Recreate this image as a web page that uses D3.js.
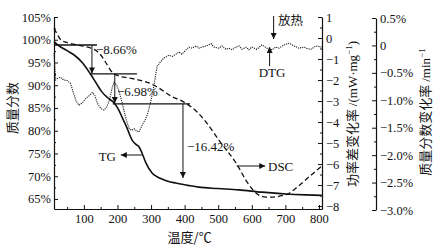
<!DOCTYPE html>
<html>
<head>
<meta charset="utf-8">
<script src="https://cdn.jsdelivr.net/npm/d3@7"></script>
<style>
  body { margin: 0; background: #fff; }
  svg text { font-family: "Liberation Serif", "DejaVu Serif", serif; fill: #111; }
  .cjk { font-family: "Noto Sans CJK SC", sans-serif; }
</style>
</head>
<body>
<div id="chart"></div>
<script>
// TG (mass fraction, %)
const tgTemp = [11, 20, 31, 50, 70, 95, 121, 138, 153, 170, 189, 202, 213, 228, 243, 255, 264, 273, 285, 303, 318, 332, 350, 374, 410, 442, 500, 561, 630, 701, 760, 808];
const tgVal  = [99.6, 99.0, 98.4, 97.6, 96.7, 95.0, 92.3, 90.3, 88.6, 87.3, 86.2, 84.8, 83.1, 80.7, 78.0, 77.0, 76.5, 75.1, 72.9, 70.7, 69.9, 69.4, 68.9, 68.5, 68.0, 67.6, 67.3, 67.0, 66.5, 66.1, 65.9, 65.8];

// DSC (mW/mg)
const dscTemp = [11, 20, 32, 55, 94, 121, 145, 166, 181, 204, 234, 264, 294, 323, 359, 398, 437, 466, 502, 553, 592, 621, 642, 665, 690, 710, 732, 771, 808];
const dscVal  = [0.45, 0.2, -0.1, -0.24, -0.38, -0.48, -0.71, -1.19, -1.57, -1.81, -1.9, -2.0, -2.14, -2.38, -2.76, -3.05, -3.52, -4.05, -4.86, -5.95, -7.0, -7.48, -7.57, -7.57, -7.5, -7.4, -7.14, -6.6, -6.1];

// DTG (%/min)
const dtgTemp = [11, 13, 16, 22, 30, 40, 50, 60, 68, 76, 85, 95, 105, 115, 125, 132, 140, 150, 160, 168, 176, 184, 190, 197, 204, 212, 219, 226, 234, 242, 250, 257, 264, 270, 276, 283, 290, 298, 305, 312, 318, 328, 338, 353, 364, 374, 383, 392, 404, 413, 422, 434, 443, 452, 464, 479, 487, 502, 511, 523, 532, 541, 553, 562, 571, 583, 591, 600, 615, 630, 645, 660, 671, 681, 696, 711, 726, 740, 755, 766, 776, 791, 808];
const dtgVal  = [-0.14, -0.35, -0.63, -0.6, -0.58, -0.63, -0.64, -0.69, -0.85, -1.0, -1.09, -1.05, -0.97, -0.92, -0.86, -0.9, -1.05, -1.15, -1.18, -1.12, -1.0, -0.78, -0.67, -0.72, -0.82, -1.0, -1.18, -1.35, -1.5, -1.55, -1.52, -1.56, -1.58, -1.5, -1.42, -1.35, -1.24, -1.05, -0.85, -0.6, -0.38, -0.3, -0.23, -0.18, -0.2, -0.16, -0.12, -0.16, -0.08, -0.03, -0.05, -0.01, -0.05, -0.03, -0.01, 0.03, -0.03, -0.05, -0.01, -0.07, -0.05, -0.08, -0.03, -0.01, -0.07, -0.03, -0.08, -0.03, -0.07, 0.01, -0.05, -0.08, -0.03, -0.05, 0.01, 0.04, -0.01, -0.05, -0.03, -0.06, -0.07, -0.01, -0.03];

// step annotations: [level %, from temp, to temp]
const stepLines = [[98.85, 11, 139], [92.5, 118, 258], [85.9, 186, 416]];
// drop arrows: [temp, from %, to %]
const dropArrows = [[124, 98.85, 92.6], [192, 92.5, 86.1], [395, 85.9, 69.6]];
const dropLabels = ["−8.66%", "−6.98%", "−16.42%"];

const W = 441, H = 246;
const mLeft = 54, mRight = 322, mTop = 17, mBottom = 209;

const svg = d3.select("#chart").append("svg")
    .attr("width", W).attr("height", H);

const defs = svg.append("defs");
defs.append("marker").attr("id", "ah")
    .attr("viewBox", "0 0 10 10").attr("refX", 10).attr("refY", 5)
    .attr("markerWidth", 7).attr("markerHeight", 6).attr("markerUnits", "userSpaceOnUse")
    .attr("orient", "auto")
    .append("path").attr("d", "M0,0L10,5L0,10z").attr("fill", "#111");

const x = d3.scaleLinear().domain([11, 809]).range([mLeft, mRight]);
const yTG = d3.scaleLinear().domain([62.8, 105]).range([mBottom, mTop]);
const yDSC = d3.scaleLinear().domain([-8.14, 1]).range([mBottom, mTop]);
const yDTG = d3.scaleLinear().domain([-3, 0.5]).range([210, 18]);

const fmtMinus = s => s.replace("-", "−");

// x axis
svg.append("g").attr("transform", `translate(0,${mBottom})`)
    .call(d3.axisBottom(x).tickValues([100, 200, 300, 400, 500, 600, 700, 800])
        .tickSizeInner(-4).tickSizeOuter(0).tickPadding(5));
svg.append("g").attr("transform", `translate(0,${mBottom})`)
    .call(d3.axisBottom(x).tickValues(d3.range(50, 800, 100)).tickSizeInner(-2).tickSizeOuter(0).tickFormat(""))
    .select(".domain").remove();

// left axis
svg.append("g").attr("transform", `translate(${mLeft},0)`)
    .call(d3.axisLeft(yTG).tickValues(d3.range(65, 106, 5)).tickFormat(d => d + "%")
        .tickSizeInner(-4).tickSizeOuter(0).tickPadding(3));
svg.append("g").attr("transform", `translate(${mLeft},0)`)
    .call(d3.axisLeft(yTG).tickValues(d3.range(67.5, 105, 5)).tickSizeInner(-2).tickSizeOuter(0).tickFormat(""))
    .select(".domain").remove();

// DSC axis
svg.append("g").attr("transform", `translate(${mRight},0)`)
    .call(d3.axisRight(yDSC).tickValues(d3.range(-8, 2, 1)).tickFormat(d => fmtMinus(String(d)))
        .tickSizeInner(-4).tickSizeOuter(0).tickPadding(4));
svg.append("g").attr("transform", `translate(${mRight},0)`)
    .call(d3.axisRight(yDSC).tickValues(d3.range(-7.5, 1, 1)).tickSizeInner(-2).tickSizeOuter(0).tickFormat(""))
    .select(".domain").remove();

// DTG axis
const dtgTicks = [0.5, 0, -0.5, -1, -1.5, -2, -2.5, -3];
svg.append("g").attr("transform", "translate(376,0)")
    .call(d3.axisRight(yDTG).tickValues(dtgTicks)
        .tickFormat(d => d === 0 ? "0" : fmtMinus(d.toFixed(1)) + "%")
        .tickSizeInner(-4).tickSizeOuter(0).tickPadding(4));
svg.append("g").attr("transform", "translate(376,0)")
    .call(d3.axisRight(yDTG).tickValues(d3.range(-2.75, 0.5, 0.5)).tickSizeInner(-2).tickSizeOuter(0).tickFormat(""))
    .select(".domain").remove();

svg.selectAll(".domain").attr("stroke", "#111").attr("stroke-width", 1.2);
svg.selectAll(".tick line").attr("stroke", "#111").attr("stroke-width", 1);
svg.selectAll(".tick text").style("font-size", "12.5px").attr("fill", "#111");

// curves
const pts = (ts, vs) => ts.map((t, i) => [t, vs[i]]);

svg.append("path").datum(pts(dtgTemp, dtgVal))
    .attr("fill", "none").attr("stroke", "#222").attr("stroke-width", 1.1)
    .attr("stroke-dasharray", "1.2,1")
    .attr("d", d3.line().x(d => x(d[0])).y(d => yDTG(d[1])));

svg.append("path").datum(pts(dscTemp, dscVal))
    .attr("fill", "none").attr("stroke", "#111").attr("stroke-width", 1.3)
    .attr("stroke-dasharray", "5,3")
    .attr("d", d3.line().curve(d3.curveMonotoneX).x(d => x(d[0])).y(d => yDSC(d[1])));

svg.append("path").datum(pts(tgTemp, tgVal))
    .attr("fill", "none").attr("stroke", "#111").attr("stroke-width", 1.6)
    .attr("d", d3.line().curve(d3.curveMonotoneX).x(d => x(d[0])).y(d => yTG(d[1])));

// step lines and drop arrows
stepLines.forEach(s => {
    svg.append("line").attr("x1", x(s[1])).attr("x2", x(s[2]))
        .attr("y1", yTG(s[0])).attr("y2", yTG(s[0]))
        .attr("stroke", "#111").attr("stroke-width", 1.3);
});
dropArrows.forEach(a => {
    svg.append("line").attr("x1", x(a[0])).attr("x2", x(a[0]))
        .attr("y1", yTG(a[1])).attr("y2", yTG(a[2]))
        .attr("stroke", "#111").attr("stroke-width", 1)
        .attr("marker-end", "url(#ah)");
});

const note = (tx, ty, str, anchor) => svg.append("text").attr("x", tx).attr("y", ty)
    .attr("text-anchor", anchor || "start").style("font-size", "13px").text(str);

note(96, 54, dropLabels[0]);
note(117, 96, dropLabels[1]);
note(187, 151, dropLabels[2]);

// series arrows
const arrow = (x1, y1, x2, y2) => svg.append("line")
    .attr("x1", x1).attr("y1", y1).attr("x2", x2).attr("y2", y2)
    .attr("stroke", "#111").attr("stroke-width", 1).attr("marker-end", "url(#ah)");

arrow(x(275), 155, x(210), 155);
note(116, 161, "TG", "end");
arrow(x(555), 166, x(640), 166);
note(268, 171, "DSC");
arrow(x(653), 66, x(653), yDTG(-0.03));
note(272, 77, "DTG", "middle");
arrow(x(665), 16, x(665), 39);
svg.append("text").attr("class", "cjk").attr("x", 278).attr("y", 25)
    .style("font-size", "12.5px").text("放热");

// axis titles
svg.append("text").attr("class", "cjk").attr("x", x(400) + 5).attr("y", 242)
    .attr("text-anchor", "middle").style("font-size", "13px").text("温度/℃");

svg.append("text").attr("class", "cjk")
    .attr("transform", "translate(17,108) rotate(-90)")
    .attr("text-anchor", "middle").style("font-size", "13px").text("质量分数");

const t2 = svg.append("text")
    .attr("transform", "translate(357,114) rotate(-90)")
    .attr("text-anchor", "middle").style("font-size", "13px");
t2.append("tspan").attr("class", "cjk").text("功率差变化率 ");
t2.append("tspan").text("/(mW·mg");
t2.append("tspan").attr("dy", -5).style("font-size", "9px").text("−1");
t2.append("tspan").attr("dy", 5).text(")");

const t3 = svg.append("text")
    .attr("transform", "translate(430,112) rotate(-90)")
    .attr("text-anchor", "middle").style("font-size", "13px");
t3.append("tspan").attr("class", "cjk").text("质量分数变化率 ");
t3.append("tspan").text("/min");
t3.append("tspan").attr("dy", -5).style("font-size", "9px").text("−1");
</script>
</body>
</html>
